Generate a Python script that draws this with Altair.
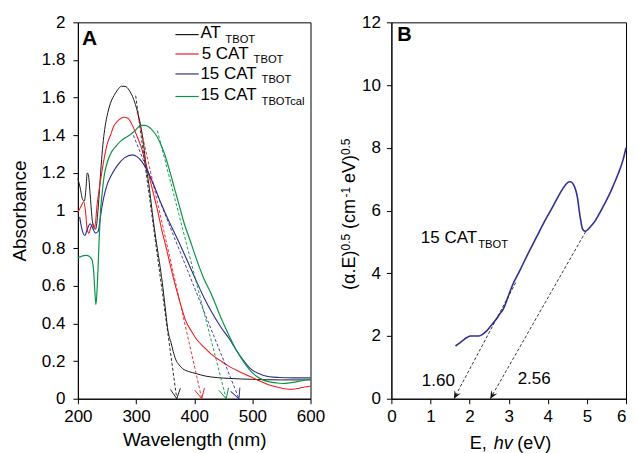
import math
import altair as alt
import pandas as pd

FONT = "Liberation Sans"

# ---------------- Panel A data ----------------
series_names = ["AT", "5CAT", "15CAT", "15CATcal"]
series_colors = ["#1a1a1a", "#ee1d23", "#2e3192", "#0b9448"]
series_widths = [1.0, 1.2, 1.2, 2.3]

at_nm = [200, 204, 208, 211, 214, 216, 218, 221, 224, 227, 230, 232, 234, 236, 238, 240, 243, 246, 250,
         256, 262, 268, 275, 281, 288, 296, 302, 308, 313, 318, 322, 326, 330, 334, 340, 345, 350, 354,
         357, 360, 364, 368, 374, 380, 390, 403, 420, 440, 460, 500, 550, 600]
at_abs = [1.17, 1.12, 1.06, 1.05, 1.12, 1.20, 1.19, 1.09, 0.97, 0.91, 0.90, 0.92, 0.98, 1.06, 1.15, 1.24,
          1.35, 1.43, 1.50, 1.57, 1.61, 1.64, 1.66, 1.66, 1.64, 1.59, 1.53, 1.45, 1.35, 1.22, 1.14, 1.04,
          0.94, 0.85, 0.73, 0.62, 0.49, 0.38, 0.33, 0.30, 0.25, 0.21, 0.18, 0.16, 0.145, 0.134, 0.12,
          0.112, 0.108, 0.103, 0.10, 0.10]

cat5_nm = [200, 205, 210, 213, 216, 219, 222, 226, 229, 233, 237, 242, 246, 251, 256, 262, 270, 279, 286,
           294, 301, 308, 315, 322, 329, 337, 344, 352, 358, 366, 374, 386, 396, 403, 418, 432, 446, 460,
           477, 495, 512, 529, 545, 558, 570, 581, 590, 600]
cat5_abs = [0.99, 1.02, 1.045, 1.0, 0.90, 0.88, 0.91, 0.93, 0.91, 1.03, 1.12, 1.22, 1.29, 1.36, 1.40, 1.45,
            1.48, 1.496, 1.49, 1.45, 1.40, 1.345, 1.27, 1.19, 1.10, 1.0, 0.90, 0.80, 0.72, 0.62, 0.53, 0.41,
            0.355, 0.32, 0.27, 0.23, 0.20, 0.172, 0.145, 0.12, 0.095, 0.073, 0.06, 0.052, 0.05, 0.056,
            0.062, 0.068]

cat15_nm = [203, 207, 212, 216, 221, 225, 230, 235, 238, 242, 246, 250, 258, 268, 280, 294, 302, 310, 318,
            330, 340, 354, 374, 390, 403, 418, 432, 446, 460, 472, 483, 492, 500, 510, 518, 530, 546, 570, 600]
cat15_abs = [0.966, 0.90, 0.868, 0.90, 0.93, 0.91, 0.88, 0.89, 0.95, 1.03, 1.09, 1.135, 1.19, 1.24, 1.28,
             1.296, 1.285, 1.26, 1.22, 1.14, 1.06, 0.96, 0.83, 0.72, 0.63, 0.53, 0.45, 0.38, 0.32, 0.26,
             0.21, 0.175, 0.152, 0.135, 0.125, 0.117, 0.113, 0.111, 0.111]

cal_nm = [200, 205, 210, 215, 220, 224, 227, 229, 231, 233, 235, 237, 239, 242, 245, 250, 256, 265, 274,
          283, 291, 300, 308, 315, 320, 331, 340, 348, 357, 365, 374, 383, 392, 403, 415, 431, 446, 460,
          472, 483, 495, 506, 518, 529, 541, 552, 564, 575, 587, 600]
cal_abs = [0.75, 0.755, 0.76, 0.762, 0.755, 0.74, 0.68, 0.58, 0.50, 0.58, 0.72, 0.88, 1.00, 1.10, 1.18,
           1.25, 1.30, 1.34, 1.37, 1.39, 1.405, 1.43, 1.452, 1.452, 1.448, 1.416, 1.37, 1.31, 1.22, 1.13,
           1.03, 0.93, 0.85, 0.75, 0.65, 0.545, 0.43, 0.335, 0.26, 0.205, 0.155, 0.122, 0.10, 0.09, 0.084,
           0.081, 0.084, 0.09, 0.097, 0.105]

# tangent (dashed) lines of panel A: start point on curve -> arrow tip on the axis
tan_start_nm = [299.4, 302, 295.4, 336.7]
tan_start_abs = [1.61, 1.52, 1.40, 1.425]
tan_tip_nm = [370, 413, 477, 455]
tan_tip_abs = [0, 0, 0, 0]

# ---------------- Panel B data ----------------
b_e = [1.64, 1.75, 1.83, 1.93, 2.03, 2.14, 2.24, 2.33, 2.41, 2.53, 2.66, 2.76, 2.87, 2.97, 3.08, 3.29,
       3.50, 3.71, 3.92, 4.10, 4.25, 4.36, 4.46, 4.53, 4.59, 4.65, 4.71, 4.76, 4.80, 4.84, 4.88, 4.92,
       4.96, 5.03, 5.10, 5.17, 5.30, 5.42, 5.55, 5.67, 5.80, 5.93, 6.0]
b_v = [1.68, 1.78, 1.86, 1.95, 2.0, 2.0, 2.0, 2.05, 2.13, 2.30, 2.50, 2.68, 2.88, 3.20, 3.57, 4.10, 4.64,
       5.15, 5.66, 6.06, 6.41, 6.65, 6.83, 6.91, 6.92, 6.84, 6.67, 6.40, 6.03, 5.70, 5.44, 5.36, 5.34,
       5.40, 5.50, 5.60, 5.86, 6.14, 6.45, 6.78, 7.17, 7.64, 8.0]

b_tan_start_e = [3.18, 4.97]
b_tan_start_v = [3.70, 5.33]
b_tan_tip_e = [1.60, 2.53]
b_tan_tip_v = [0, 0]
b_gap_labels = ["1.60", "2.56"]

# ---------------- layout ----------------
WA, HA = 233, 377
WB, HB = 235, 377
ONE = alt.Data(values=[{"k": 0}])

V_OPEN = "M-0.5,-1L0,0L0.5,-1"
ARROW_FILLED = "M-0.45,-1L0,0L0.45,-1L0,-0.6Z"


def arrow_angle(dxp, dyp):
    return math.degrees(math.atan2(-dxp, dyp)) % 360


rows = []
for name, xs, ys in zip(series_names, [at_nm, cat5_nm, cat15_nm, cal_nm],
                        [at_abs, cat5_abs, cat15_abs, cal_abs]):
    for i, (x, y) in enumerate(zip(xs, ys)):
        rows.append({"series": name, "nm": x, "abs": y, "i": i})
a_df = pd.DataFrame(rows)

trows, arows = [], []
for k, name in enumerate(series_names):
    trows.append({"series": name, "nm": tan_start_nm[k], "abs": tan_start_abs[k], "i": 0})
    trows.append({"series": name, "nm": tan_tip_nm[k], "abs": tan_tip_abs[k], "i": 1})
    dxp = (tan_tip_nm[k] - tan_start_nm[k]) * WA / 400
    dyp = (tan_start_abs[k] - tan_tip_abs[k]) * HA / 2
    arows.append({"series": name, "nm": tan_tip_nm[k], "abs": tan_tip_abs[k],
                  "ang": arrow_angle(dxp, dyp)})
tan_df = pd.DataFrame(trows)
arr_df = pd.DataFrame(arows)

color_scale = alt.Scale(domain=series_names, range=series_colors)
width_scale = alt.Scale(domain=series_names, range=series_widths)

xA = alt.X("nm:Q", scale=alt.Scale(domain=[200, 600], nice=False),
           axis=alt.Axis(values=[200, 300, 400, 500, 600], title="Wavelength (nm)",
                         labelPadding=5, titlePadding=6))
yA = alt.Y("abs:Q", scale=alt.Scale(domain=[0, 2], nice=False),
           axis=alt.Axis(values=[0, 0.2, 0.4, 0.6, 0.8, 1, 1.2, 1.4, 1.6, 1.8, 2], title="Absorbance",
                         labelExpr="format(datum.value, '.1~f')", labelPadding=8, titlePadding=12))
colA = alt.Color("series:N", scale=color_scale, legend=None)

curvesA = alt.Chart(a_df).mark_line(interpolate="monotone").encode(
    x=xA, y=yA, color=colA,
    strokeWidth=alt.StrokeWidth("series:N", scale=width_scale, legend=None),
    detail="series:N", order="i:Q")

tangentsA = alt.Chart(tan_df).mark_line(strokeDash=[3, 2], strokeWidth=0.9).encode(
    x=xA, y=yA, color=colA, detail="series:N", order="i:Q")

arrowsA = alt.Chart(arr_df).mark_point(shape=V_OPEN, filled=False, size=400, strokeWidth=0.9,
                                       opacity=1).encode(
    x=xA, y=yA, color=colA, angle=alt.Angle("ang:Q", scale=None))

layersA = [curvesA, tangentsA, arrowsA]

# legend for panel A (drawn by hand to allow subscripts)
leg_main = ["AT", "5 CAT", "15 CAT", "15 CAT"]
leg_sub = ["TBOT", "TBOT", "TBOT", "TBOTcal"]
leg_line_y = [12.3, 31.7, 51.7, 74.3]
leg_main_x = [122.7, 124, 122.7, 122.7]
leg_main_y = [16, 37, 57, 77.8]
leg_sub_x = [147.7, 176, 184, 184]
leg_sub_y = [20.5, 41, 61, 82.5]
for k in range(4):
    layersA.append(alt.Chart(ONE).mark_rule(color=series_colors[k], strokeWidth=1.2).encode(
        x=alt.value(97.7), x2=alt.value(121), y=alt.value(leg_line_y[k])))
    layersA.append(alt.Chart(ONE).mark_text(text=leg_main[k], align="left", baseline="alphabetic",
                                            fontSize=17, font=FONT, color="black").encode(
        x=alt.value(leg_main_x[k]), y=alt.value(leg_main_y[k])))
    layersA.append(alt.Chart(ONE).mark_text(text=leg_sub[k], align="left", baseline="alphabetic",
                                            fontSize=11.2, font=FONT, color="black").encode(
        x=alt.value(leg_sub_x[k]), y=alt.value(leg_sub_y[k])))

layersA.append(alt.Chart(ONE).mark_text(text="A", align="left", baseline="alphabetic", fontSize=21,
                                        fontWeight="bold", font=FONT, color="black").encode(
    x=alt.value(4), y=alt.value(23)))

panelA = alt.layer(*layersA).properties(width=WA, height=HA)

# ---------------- Panel B ----------------
b_df = pd.DataFrame({"E": b_e, "v": b_v, "i": list(range(len(b_e)))})
bt_rows, ba_rows = [], []
for k in range(2):
    bt_rows.append({"t": k, "E": b_tan_start_e[k], "v": b_tan_start_v[k], "i": 0})
    bt_rows.append({"t": k, "E": b_tan_tip_e[k], "v": b_tan_tip_v[k], "i": 1})
    dxp = (b_tan_tip_e[k] - b_tan_start_e[k]) * WB / 6
    dyp = (b_tan_start_v[k] - b_tan_tip_v[k]) * HB / 12
    ba_rows.append({"E": b_tan_tip_e[k], "v": b_tan_tip_v[k], "ang": arrow_angle(dxp, dyp)})
bt_df = pd.DataFrame(bt_rows)
ba_df = pd.DataFrame(ba_rows)

xB = alt.X("E:Q", scale=alt.Scale(domain=[0, 6], nice=False),
           axis=alt.Axis(values=[0, 1, 2, 3, 4, 5, 6], title=None, labelPadding=5,
                         labelAlign=alt.expr("datum.value >= 6 ? 'right' : 'center'")))
yB = alt.Y("v:Q", scale=alt.Scale(domain=[0, 12], nice=False),
           axis=alt.Axis(values=[0, 2, 4, 6, 8, 10, 12], title=None, labelPadding=6))

curveB = alt.Chart(b_df).mark_line(interpolate="monotone", color="#2e3192", strokeWidth=1.6).encode(
    x=xB, y=yB, order="i:Q")
tangentsB = alt.Chart(bt_df).mark_line(strokeDash=[3, 2], strokeWidth=0.9, color="#222222").encode(
    x=xB, y=yB, detail="t:N", order="i:Q")
arrowsB = alt.Chart(ba_df).mark_point(shape=ARROW_FILLED, filled=True, size=256, color="#111111",
                                      opacity=1).encode(
    x=xB, y=yB, angle=alt.Angle("ang:Q", scale=None))

layersB = [curveB, tangentsB, arrowsB]


def txt(text, x, y, size, angle=None, weight="normal", style="normal"):
    kw = dict(text=text, align="left", baseline="alphabetic", fontSize=size, font=FONT,
              color="black", fontWeight=weight, fontStyle=style)
    if angle is not None:
        kw["angle"] = angle
    return alt.Chart(ONE).mark_text(**kw).encode(x=alt.value(x), y=alt.value(y))


layersB.append(txt("B", 6, 19, 20, weight="bold"))
layersB.append(txt("15 CAT", 29.5, 221, 17))
layersB.append(txt("TBOT", 87, 226, 11.2))
layersB.append(txt(b_gap_labels[0], 30.5, 364, 17))
layersB.append(txt(b_gap_labels[1], 126.5, 362, 17))

# y title with superscripts, written bottom-to-top
ytitle_parts = [("(α.E)", 18, 268, -36), ("0.5", 12, 228.5, -41), ("(cm", 18, 207, -36),
                ("-1", 12, 175.5, -41), ("eV)", 18, 161, -36), ("0.5", 12, 133, -41)]
for t, s, y0, xb in ytitle_parts:
    layersB.append(txt(t, xb, y0, s, angle=270))

# x title with italic h-nu
layersB.append(txt("E,", 78.5, 427, 18))
layersB.append(txt("hv", 102.5, 427, 18, style="italic"))
layersB.append(txt("(eV)", 126, 427, 18))

panelB = alt.layer(*layersB).properties(width=WB, height=HB)

chart = alt.hconcat(panelA, panelB, spacing=14).properties(
    padding={"left": 1, "top": 4, "right": 0, "bottom": 0}
).configure_view(stroke="black", strokeWidth=1).configure_axis(
    labelFont=FONT, labelFontSize=17, labelColor="black",
    titleFont=FONT, titleFontSize=19, titleFontWeight="normal", titleColor="black",
    domainColor="black", tickColor="black", grid=False, labelFlush=False,
    tickSize=5, domainWidth=1, tickWidth=1
)

chart.save("out.html", embed_options={"renderer": "svg", "actions": False})
